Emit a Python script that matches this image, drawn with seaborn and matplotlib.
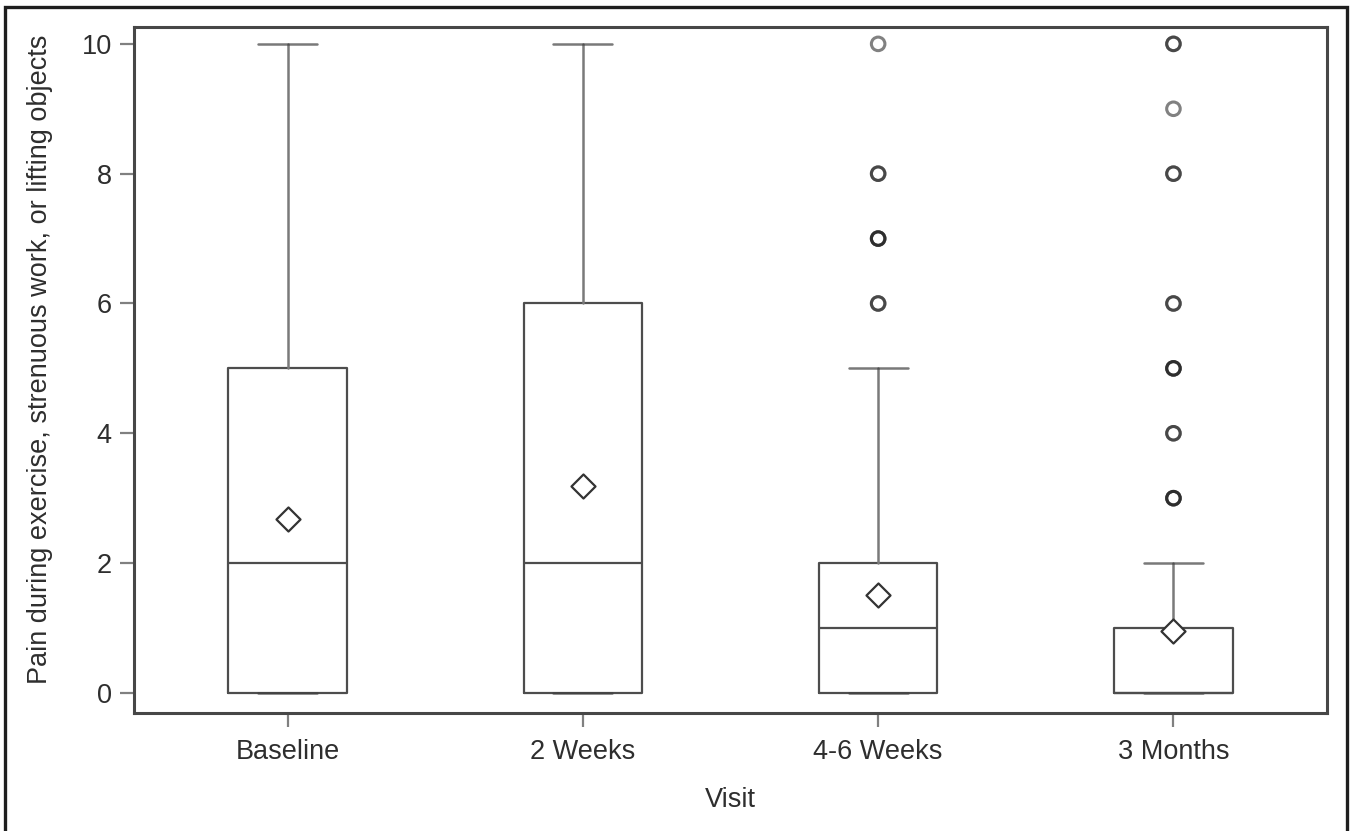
import numpy as np
import pandas as pd
import matplotlib
matplotlib.use("Agg")
import matplotlib.pyplot as plt
from matplotlib.patches import Rectangle
import seaborn as sns

# Summary statistics per visit
visits = ["Baseline", "2 Weeks", "4-6 Weeks", "3 Months"]
whisker_low = [0, 0, 0, 0]
q1 = [0, 0, 0, 0]
median = [2, 2, 1, 0]
q3 = [5, 6, 2, 1]
whisker_high = [10, 10, 5, 2]
means = [2.68, 3.19, 1.51, 0.95]

# Outlying observations (repeated values overlap)
outliers_4_6_weeks = [6, 6, 7, 7, 7, 8, 8, 10]
outliers_3_months = [3, 3, 3, 4, 4, 5, 5, 5, 6, 6, 8, 8, 9, 10, 10]

y_ticks = [0, 2, 4, 6, 8, 10]

sns.set_style("white")
plt.rcParams["font.family"] = ["Liberation Sans", "DejaVu Sans"]

fig = plt.figure(figsize=(13.55, 8.31), dpi=100)
ax = fig.add_axes([134 / 1355, 118 / 831, 1193 / 1355, 686 / 831])

stats = []
for i, v in enumerate(visits):
    stats.append(dict(label=v, whislo=whisker_low[i], q1=q1[i], med=median[i],
                      q3=q3[i], whishi=whisker_high[i], mean=means[i], fliers=[]))

positions = np.arange(len(visits))
box_col = "#4d4d4d"
whisk_col = "#7a7a7a"
ax.bxp(stats, positions=positions, widths=0.40, showfliers=False, showmeans=False,
       boxprops=dict(color=box_col, linewidth=1.6),
       medianprops=dict(color=box_col, linewidth=1.6),
       whiskerprops=dict(color=whisk_col, linewidth=1.8),
       capprops=dict(color=(0.25, 0.25, 0.25, 0.7), linewidth=1.8),
       capwidths=0.20, manage_ticks=False, zorder=2)

# Outliers
out_df = pd.DataFrame({
    "pos": [2] * len(outliers_4_6_weeks) + [3] * len(outliers_3_months),
    "value": outliers_4_6_weeks + outliers_3_months,
})
sns.scatterplot(data=out_df, x="pos", y="value", ax=ax, marker="o", s=95,
                facecolor="none", edgecolor=(0.1, 0.1, 0.1, 0.55), linewidth=2.2,
                zorder=4)

# Means
mean_df = pd.DataFrame({"pos": positions, "value": means})
sns.scatterplot(data=mean_df, x="pos", y="value", ax=ax, marker="D", s=150,
                facecolor="white", edgecolor="#333333", linewidth=1.6, zorder=5)

ax.set_xlim(-0.52, 3.52)
ax.set_ylim(-0.31, 10.26)
ax.set_xticks(positions)
ax.set_xticklabels(visits)
ax.set_yticks(y_ticks)
ax.set_yticklabels([str(t) for t in y_ticks])

txt_col = "#2e2e2e"
ax.tick_params(axis="both", direction="out", length=10, width=1.6, color="#808080",
               labelsize=19.5, labelcolor=txt_col, bottom=True, left=True)
ax.tick_params(axis="x", pad=9)
ax.tick_params(axis="y", pad=6)
for s in ax.spines.values():
    s.set_color("#474747")
    s.set_linewidth(2.2)

ax.set_xlabel("Visit", fontsize=19.5, color=txt_col)
ax.set_ylabel("Pain during exercise, strenuous work, or lifting objects",
              fontsize=19.5, color=txt_col)
ax.yaxis.set_label_coords(-0.068, 0.515)
ax.xaxis.set_label_coords(0.5, -0.108)

# Border around the whole graphic
fig.patches.append(Rectangle((5 / 1355, -0.02), 1342 / 1355, 1.02 - 7 / 831,
                             transform=fig.transFigure, fill=False,
                             edgecolor="#1e1e1e", linewidth=2.4, zorder=10))

fig.savefig("out.png", dpi=100, facecolor="white")
